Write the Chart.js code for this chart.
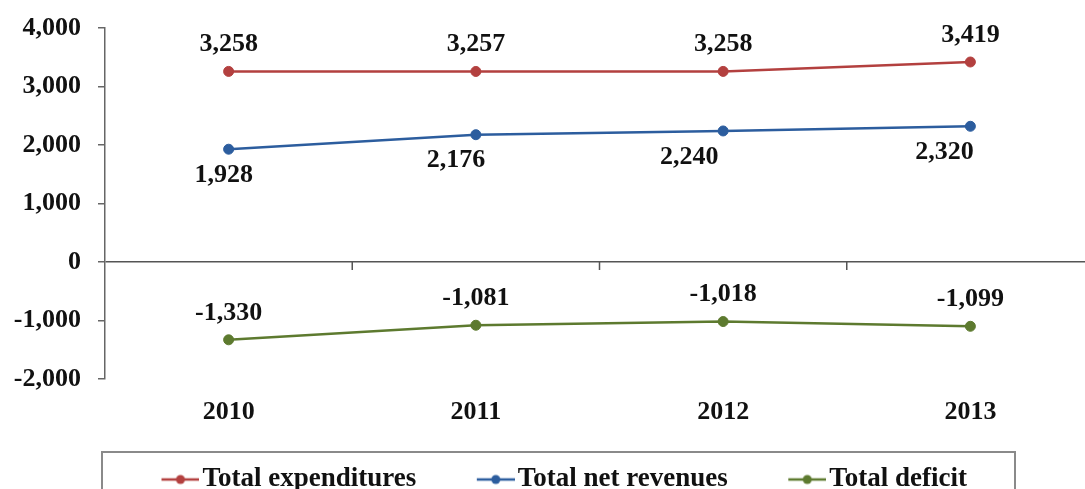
<!DOCTYPE html>
<html>
<head>
<meta charset="utf-8">
<script src="https://cdn.jsdelivr.net/npm/chart.js@4/dist/chart.umd.min.js"></script>
<style>
  html, body { margin: 0; padding: 0; background: #fff; overflow: hidden; }
  #budgetChart { display: block; }
</style>
</head>
<body>
<canvas id="budgetChart" width="1100" height="489"></canvas>
<script>
// values
const years = ['2010', '2011', '2012', '2013'];
const expenditures = [3258, 3257, 3258, 3419];
const netRevenues = [1928, 2176, 2240, 2320];
const deficit = [-1330, -1081, -1018, -1099];
const yTicks = [-2000, -1000, 0, 1000, 2000, 3000, 4000];

const seriesNames = ['Total expenditures', 'Total net revenues', 'Total deficit'];
const seriesColors = ['#B3403F', '#2C5D9E', '#5D7A2F'];

const fmt = v => v.toLocaleString('en-US');

Chart.defaults.font.family = '"Liberation Serif", "Times New Roman", serif';
Chart.defaults.font.weight = 'bold';
Chart.defaults.font.size = 26;
Chart.defaults.color = '#111';

// line-with-dot pictures for the legend (marker sits at the right end of the image)
function makeMarker(color) {
  const c = document.createElement('canvas');
  c.width = 69;
  c.height = 14;
  const g = c.getContext('2d');
  g.strokeStyle = color;
  g.lineWidth = 2.5;
  g.beginPath();
  g.moveTo(31, 7);
  g.lineTo(69, 7);
  g.stroke();
  g.fillStyle = color;
  g.beginPath();
  g.arc(50, 7, 4.5, 0, Math.PI * 2);
  g.fill();
  return c;
}
const markers = seriesColors.map(makeMarker);

const valueLabels = {
  id: 'valueLabels',
  afterDatasetsDraw(chart, args, opts) {
    const ctx = chart.ctx;
    ctx.save();
    ctx.font = 'bold 26px "Liberation Serif", serif';
    ctx.fillStyle = '#111';
    ctx.textAlign = 'center';
    ctx.textBaseline = 'middle';
    chart.data.datasets.forEach((ds, i) => {
      const meta = chart.getDatasetMeta(i);
      const s = opts.shifts[i];
      meta.data.forEach((pt, j) => {
        const dx = s.dx ? s.dx[j] : 0;
        ctx.fillText(fmt(ds.data[j]), pt.x + dx, pt.y + s.dy);
      });
    });
    ctx.restore();
  }
};

const zeroAxisTicks = {
  id: 'zeroAxisTicks',
  afterDraw(chart, args, opts) {
    const { ctx, scales: { x, y } } = chart;
    const y0 = y.getPixelForValue(0);
    const step = x.getPixelForValue(1) - x.getPixelForValue(0);
    ctx.save();
    ctx.strokeStyle = opts.color;
    ctx.lineWidth = 1.5;
    ctx.beginPath();
    for (let i = 0; i < years.length; i++) {
      const xb = x.getPixelForValue(i) + step / 2;
      ctx.moveTo(xb, y0);
      ctx.lineTo(xb, y0 + 8);
    }
    ctx.stroke();
    // frame around the legend
    ctx.strokeStyle = '#8a8a8a';
    ctx.lineWidth = 2;
    ctx.strokeRect(chart.chartArea.left - 3, 452, 913, 60);
    ctx.restore();
  }
};

new Chart(document.getElementById('budgetChart'), {
  type: 'line',
  data: {
    labels: years,
    datasets: [
      { label: seriesNames[0], data: expenditures },
      { label: seriesNames[1], data: netRevenues },
      { label: seriesNames[2], data: deficit }
    ].map((d, i) => Object.assign(d, {
      borderColor: seriesColors[i],
      backgroundColor: seriesColors[i],
      pointBackgroundColor: seriesColors[i],
      pointBorderColor: seriesColors[i],
      borderWidth: 2.5,
      pointRadius: 5,
      pointBorderWidth: 1,
      tension: 0
    }))
  },
  options: {
    responsive: false,
    animation: false,
    layout: { padding: { top: 28, left: 10, right: 2, bottom: 0 } },
    scales: {
      x: {
        offset: true,
        grid: { display: false, drawTicks: false },
        border: { display: false },
        ticks: { padding: 18, color: '#111' },
        afterFit(scale) { scale.height = 47; }
      },
      y: {
        min: -2000,
        max: 4000,
        afterBuildTicks(scale) { scale.ticks = yTicks.map(v => ({ value: v })); },
        grid: {
          color: c => (c.tick && c.tick.value === 0 ? '#555' : 'rgba(0,0,0,0)'),
          lineWidth: 1.5,
          tickColor: '#666',
          tickLength: 7
        },
        border: { display: true, color: '#666', width: 1.5 },
        ticks: { padding: 17, color: '#111', callback: v => fmt(v) },
        afterFit(scale) {
          scale.width = 95;
          scale.paddingTop = 10;
          scale.paddingBottom = 10;
        }
      }
    },
    plugins: {
      legend: {
        position: 'bottom',
        maxHeight: 63,
        labels: {
          usePointStyle: true,
          pointStyleWidth: 48,
          padding: 40,
          color: '#111',
          font: { size: 27, weight: 'bold' },
          generateLabels(chart) {
            const items = Chart.defaults.plugins.legend.labels.generateLabels(chart);
            items.forEach((it, i) => { it.pointStyle = markers[i]; });
            return items;
          }
        }
      },
      tooltip: { enabled: false },
      valueLabels: {
        shifts: [
          { dy: -27 },
          { dy: 26, dx: [-5, -20, -34, -26] },
          { dy: -27 }
        ]
      },
      zeroAxisTicks: { color: '#555' }
    }
  },
  plugins: [valueLabels, zeroAxisTicks]
});
</script>
</body>
</html>
